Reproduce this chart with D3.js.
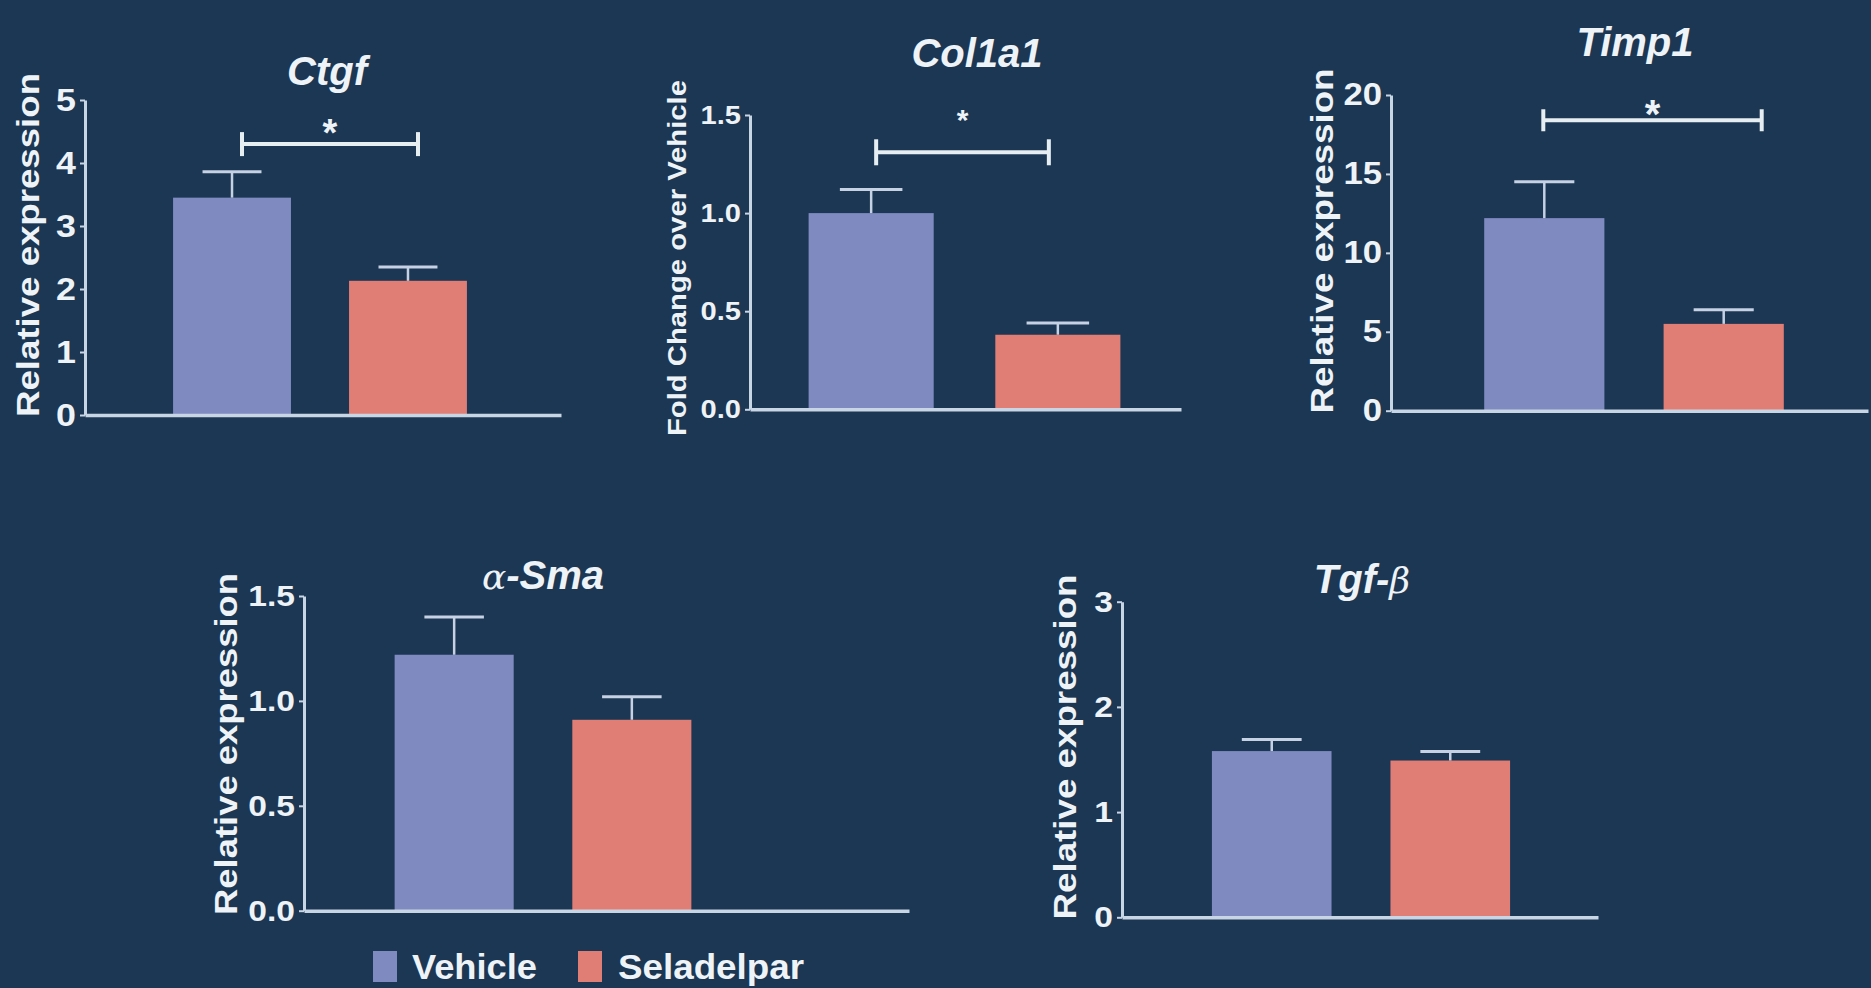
<!DOCTYPE html>
<html><head><meta charset="utf-8">
<script src="https://cdn.jsdelivr.net/npm/d3@7"></script>
<style>html,body{margin:0;padding:0;background:#1c3753;overflow:hidden}</style>
</head><body><svg id="c" width="1871" height="988"></svg>
<script>
// ---- data ----
const groups = ["Vehicle", "Seladelpar"];
const genes = ["Ctgf", "Col1a1", "Timp1", "α-Sma", "Tgf-β"];
const yLabels = ["Relative expression", "Fold Change over Vehicle", "Relative expression", "Relative expression", "Relative expression"];
const yMax = [5, 1.5, 20, 1.5, 3];
const yTicks = [[0, 1, 2, 3, 4, 5], [0, 0.5, 1.0, 1.5], [0, 5, 10, 15, 20], [0, 0.5, 1.0, 1.5], [0, 1, 2, 3]];
const tickFormats = ["d", ".1f", "d", ".1f", "d"];
const vehicleMean = [3.45, 1.0, 12.2, 1.22, 1.58];
const vehicleSem = [0.41, 0.12, 2.3, 0.18, 0.11];
const seladelparMean = [2.13, 0.38, 5.5, 0.91, 1.49];
const seladelparSem = [0.22, 0.06, 0.9, 0.11, 0.085];
const sigBracket = [4.3, 1.31, 18.4, null, null];
const sigLabel = ["*", "*", "*", null, null];

// ---- layout (positions / sizes / styles) ----
const layout = [
  {ax: 85,   axEnd: 561,  y0: 415,   yTop: 100,   band: [115, 525],   titleX: 327,  titleY: 85,  labelX: 28,   labelY: 245, labelLen: 344, labelSize: 31, tickFont: 32, brDx: [10, 10],  brTick: 12, starGap: 20, starSize: 38},
  {ax: 750,  axEnd: 1181, y0: 409.3, yTop: 115,   band: [747, 1182],  titleX: 977,  titleY: 67,  labelX: 677,  labelY: 258, labelLen: 356, labelSize: 26, tickFont: 26, brDx: [5, -9],   brTick: 13, starGap: 39, starSize: 30},
  {ax: 1391, axEnd: 1868, y0: 410.7, yTop: 95,    band: [1425, 1843], titleX: 1635, titleY: 56,  labelX: 1322, labelY: 241, labelLen: 345, labelSize: 31, tickFont: 31, brDx: [-1, 38],  brTick: 11, starGap: 15, starSize: 40},
  {ax: 304,  axEnd: 909,  y0: 910.7, yTop: 596,   band: [336, 750],   titleX: 543,  titleY: 589, labelX: 226,  labelY: 744, labelLen: 342, labelSize: 31, tickFont: 30, brDx: [0, 0],    brTick: 12, starGap: 20, starSize: 34},
  {ax: 1122, axEnd: 1598, y0: 917.3, yTop: 601.7, band: [1153, 1569], titleX: 1362, titleY: 593, labelX: 1065, labelY: 747, labelLen: 345, labelSize: 31, tickFont: 30, brDx: [0, 0],    brTick: 12, starGap: 20, starSize: 34}
];
const colors = {Vehicle: "#7f8ac1", Seladelpar: "#e07e76"};
const textColor = "#eef3f8";
const axisColor = "#c8d5e4";
const errColor = "#c6d1e4";
const FONT = "'Liberation Sans', Arial, Helvetica, sans-serif";
const tickScaleX = 1.12;

const svg = d3.select("#c");
svg.append("rect").attr("width", 1871).attr("height", 988).attr("fill", "#1c3753");

genes.forEach((gene, i) => {
  const L = layout[i];
  const g = svg.append("g");
  const x = d3.scaleBand().domain(groups).range(L.band).paddingInner(0.33).paddingOuter(0.33);
  const y = d3.scaleLinear().domain([0, yMax[i]]).range([L.y0, L.yTop]);
  const rows = [
    {grp: "Vehicle", mean: vehicleMean[i], sem: vehicleSem[i]},
    {grp: "Seladelpar", mean: seladelparMean[i], sem: seladelparSem[i]}
  ];

  // bars
  g.selectAll("rect.bar").data(rows).join("rect").attr("class", "bar")
    .attr("x", d => x(d.grp)).attr("width", x.bandwidth())
    .attr("y", d => y(d.mean)).attr("height", d => y(0) - y(d.mean))
    .attr("fill", d => colors[d.grp]);

  // error bars (upper only)
  const cx = d => x(d.grp) + x.bandwidth() / 2;
  const capW = x.bandwidth() * 0.25;
  g.selectAll("line.ev").data(rows).join("line").attr("class", "ev")
    .attr("x1", cx).attr("x2", cx).attr("y1", d => y(d.mean)).attr("y2", d => y(d.mean + d.sem))
    .attr("stroke", errColor).attr("stroke-width", 2.5);
  g.selectAll("line.ec").data(rows).join("line").attr("class", "ec")
    .attr("x1", d => cx(d) - capW).attr("x2", d => cx(d) + capW)
    .attr("y1", d => y(d.mean + d.sem)).attr("y2", d => y(d.mean + d.sem))
    .attr("stroke", errColor).attr("stroke-width", 3);

  // y axis
  const yAxis = d3.axisLeft(y).tickValues(yTicks[i]).tickFormat(d3.format(tickFormats[i]))
    .tickSize(5).tickSizeOuter(0).tickPadding(4);
  const ya = g.append("g").attr("transform", `translate(${L.ax},0)`).call(yAxis);
  ya.select(".domain").attr("stroke", axisColor).attr("stroke-width", 3);
  ya.selectAll(".tick line").attr("stroke", axisColor).attr("stroke-width", 2);
  ya.selectAll(".tick text").attr("fill", textColor).attr("font-family", FONT)
    .attr("font-weight", "bold").attr("font-size", L.tickFont)
    .attr("x", -9 / tickScaleX).attr("transform", `scale(${tickScaleX},1)`);

  // x axis (baseline)
  const xl = d3.scaleLinear().domain([0, 1]).range([L.ax, L.axEnd]);
  const xa = g.append("g").attr("transform", `translate(0,${L.y0})`)
    .call(d3.axisBottom(xl).tickValues([]).tickSizeOuter(0));
  xa.select(".domain").attr("stroke", axisColor).attr("stroke-width", 3.5);

  // y label
  g.append("text")
    .attr("transform", `translate(${L.labelX},${L.labelY}) rotate(-90)`)
    .attr("text-anchor", "middle").attr("dominant-baseline", "central")
    .attr("font-family", FONT).attr("font-weight", "bold").attr("font-size", L.labelSize)
    .attr("fill", textColor)
    .attr("textLength", L.labelLen).attr("lengthAdjust", "spacingAndGlyphs")
    .text(yLabels[i]);

  // title
  const t = g.append("text").attr("x", L.titleX).attr("y", L.titleY)
    .attr("text-anchor", "middle").attr("font-family", FONT)
    .attr("font-weight", "bold").attr("font-style", "italic").attr("font-size", 40)
    .attr("fill", textColor);
  const greek = /[α-ω]/;
  [...gene].forEach(ch => {
    const ts = t.append("tspan").text(ch);
    if (greek.test(ch)) ts.attr("font-family", "'DejaVu Serif', serif").attr("font-weight", "normal").attr("font-size", 36);
  });

  // significance bracket
  if (sigBracket[i] != null) {
    const bx1 = cx(rows[0]) + L.brDx[0], bx2 = cx(rows[1]) + L.brDx[1];
    const by = y(sigBracket[i]);
    const br = g.append("g").attr("stroke", "#e6eef2").attr("stroke-width", 4);
    br.append("line").attr("x1", bx1).attr("x2", bx2).attr("y1", by).attr("y2", by);
    br.append("line").attr("x1", bx1).attr("x2", bx1).attr("y1", by - L.brTick).attr("y2", by + L.brTick);
    br.append("line").attr("x1", bx2).attr("x2", bx2).attr("y1", by - L.brTick).attr("y2", by + L.brTick);
    g.append("text").attr("x", (bx1 + bx2) / 2).attr("y", by - L.starGap + 0.57 * L.starSize)
      .attr("text-anchor", "middle").attr("font-family", FONT).attr("font-weight", "bold")
      .attr("font-size", L.starSize).attr("fill", textColor).text(sigLabel[i]);
  }
});

// legend
const legend = [
  {grp: "Vehicle", sx: 373, tx: 412},
  {grp: "Seladelpar", sx: 578, tx: 618}
];
const lg = svg.append("g");
lg.selectAll("rect").data(legend).join("rect")
  .attr("x", d => d.sx).attr("y", 951).attr("width", 24).attr("height", 31)
  .attr("fill", d => colors[d.grp]);
lg.selectAll("text").data(legend).join("text")
  .attr("x", d => d.tx).attr("y", 979).attr("font-family", FONT).attr("font-weight", "bold")
  .attr("font-size", 35).attr("fill", textColor)
  .attr("textLength", d => d.grp === "Vehicle" ? 125 : 186).attr("lengthAdjust", "spacingAndGlyphs")
  .text(d => d.grp);
</script>
</body></html>
